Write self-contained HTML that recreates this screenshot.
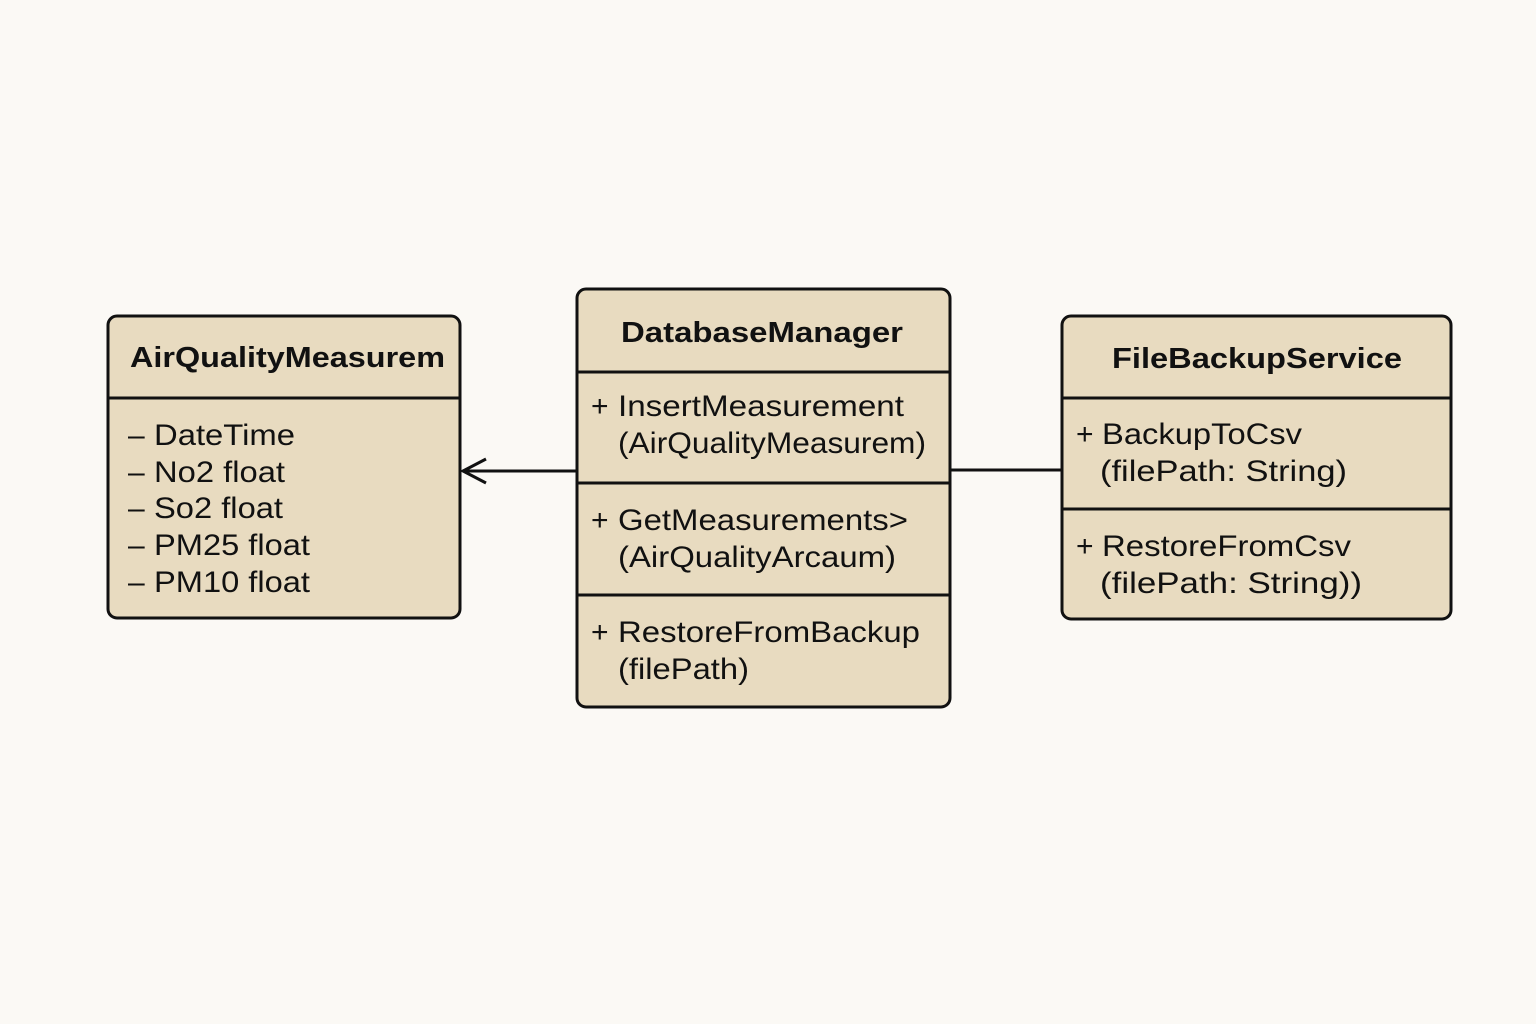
<!DOCTYPE html>
<html><head><meta charset="utf-8"><style>
html,body{margin:0;padding:0;background:#fbf9f5;}
svg{display:block}
text{font-family:"Liberation Sans",sans-serif;fill:#111;}
.t{font-weight:bold;font-size:29px;}
.r{font-size:30px;}
</style></head><body>
<svg width="1536" height="1024" viewBox="0 0 1536 1024" xmlns="http://www.w3.org/2000/svg">
<rect width="1536" height="1024" fill="#fbf9f5"/>
<g stroke="#111" stroke-width="3" fill="#e8dbc0">
<rect x="108" y="316" width="352" height="302" rx="9"/>
<rect x="577" y="289" width="373" height="418" rx="9"/>
<rect x="1062" y="316" width="389" height="303" rx="9"/>
</g>
<g stroke="#111" stroke-width="3" fill="none">
<line x1="108" y1="398" x2="460" y2="398"/>
<line x1="577" y1="372" x2="950" y2="372"/>
<line x1="577" y1="483" x2="950" y2="483"/>
<line x1="577" y1="595" x2="950" y2="595"/>
<line x1="1062" y1="398" x2="1451" y2="398"/>
<line x1="1062" y1="509" x2="1451" y2="509"/>
<line x1="463" y1="471" x2="577" y2="471"/>
<polyline points="486,459 463,471 486,483"/>
<line x1="950" y1="470" x2="1062" y2="470"/>
</g>
<text class="t" x="130" y="367" textLength="315" lengthAdjust="spacingAndGlyphs">AirQualityMeasurem</text>
<text class="r" x="128" y="445">–</text><text class="r" x="154" y="445" textLength="141" lengthAdjust="spacingAndGlyphs">DateTime</text>
<text class="r" x="128" y="482">–</text><text class="r" x="154" y="482" textLength="131" lengthAdjust="spacingAndGlyphs">No2 float</text>
<text class="r" x="128" y="518">–</text><text class="r" x="154" y="518" textLength="129" lengthAdjust="spacingAndGlyphs">So2 float</text>
<text class="r" x="128" y="555">–</text><text class="r" x="154" y="555" textLength="156" lengthAdjust="spacingAndGlyphs">PM25 float</text>
<text class="r" x="128" y="592">–</text><text class="r" x="154" y="592" textLength="156" lengthAdjust="spacingAndGlyphs">PM10 float</text>

<text class="t" x="621" y="342" textLength="282" lengthAdjust="spacingAndGlyphs">DatabaseManager</text>
<text class="r" x="591" y="416">+</text><text class="r" x="618" y="416" textLength="286" lengthAdjust="spacingAndGlyphs">InsertMeasurement</text>
<text class="r" x="618" y="453" textLength="308" lengthAdjust="spacingAndGlyphs">(AirQualityMeasurem)</text>
<text class="r" x="591" y="530">+</text><text class="r" x="618" y="530" textLength="290" lengthAdjust="spacingAndGlyphs">GetMeasurements&gt;</text>
<text class="r" x="618" y="567" textLength="278" lengthAdjust="spacingAndGlyphs">(AirQualityArcaum)</text>
<text class="r" x="591" y="642">+</text><text class="r" x="618" y="642" textLength="302" lengthAdjust="spacingAndGlyphs">RestoreFromBackup</text>
<text class="r" x="618" y="679" textLength="131" lengthAdjust="spacingAndGlyphs">(filePath)</text>

<text class="t" x="1112" y="368" textLength="290" lengthAdjust="spacingAndGlyphs">FileBackupService</text>
<text class="r" x="1076" y="444">+</text><text class="r" x="1102" y="444" textLength="200" lengthAdjust="spacingAndGlyphs">BackupToCsv</text>
<text class="r" x="1100" y="481" textLength="247" lengthAdjust="spacingAndGlyphs">(filePath: String)</text>
<text class="r" x="1076" y="556">+</text><text class="r" x="1102" y="556" textLength="249" lengthAdjust="spacingAndGlyphs">RestoreFromCsv</text>
<text class="r" x="1100" y="593" textLength="262" lengthAdjust="spacingAndGlyphs">(filePath: String))</text>
</svg>
</body></html>
